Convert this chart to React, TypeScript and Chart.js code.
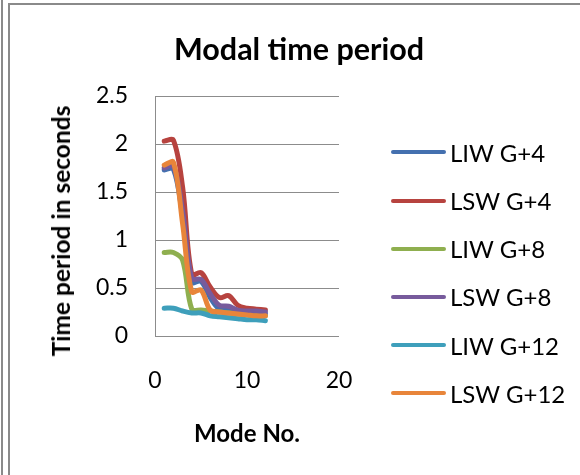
import React, { useEffect, useRef } from "react";
import { Chart, registerables } from "chart.js";

Chart.register(...registerables);

const modes = [1, 2, 3, 4, 5, 6, 7, 8, 9, 10, 11, 12];
const liwG4 = [1.73, 1.74, 1.25, 0.56, 0.57, 0.4, 0.28, 0.27, 0.26, 0.25, 0.24, 0.23];
const lswG4 = [2.03, 2.04, 1.55, 0.64, 0.66, 0.51, 0.4, 0.42, 0.32, 0.29, 0.28, 0.27];
const liwG8 = [0.87, 0.87, 0.79, 0.28, 0.27, 0.26, 0.25, 0.24, 0.23, 0.22, 0.21, 0.21];
const lswG8 = [1.75, 1.77, 1.3, 0.6, 0.59, 0.44, 0.32, 0.31, 0.27, 0.26, 0.26, 0.25];
const liwG12 = [0.29, 0.29, 0.26, 0.24, 0.24, 0.21, 0.2, 0.19, 0.18, 0.17, 0.17, 0.16];
const lswG12 = [1.78, 1.81, 1.17, 0.46, 0.48, 0.27, 0.25, 0.24, 0.23, 0.22, 0.21, 0.21];

const seriesNames = ["LIW G+4", "LSW G+4", "LIW G+8", "LSW G+8", "LIW G+12", "LSW G+12"];
const seriesValues = [liwG4, lswG4, liwG8, lswG8, liwG12, lswG12];
const seriesColors = ["#4470AF", "#B7433F", "#8FAF4F", "#775B9C", "#3E9FBB", "#E8853A"];

const yTicks = [0, 0.5, 1, 1.5, 2, 2.5];
const xTicks = [0, 10, 20];

const FONT = "Lato, 'Open Sans', sans-serif";

export default function App() {
  const ref = useRef<HTMLCanvasElement>(null);

  useEffect(() => {
    if (!ref.current) return;
    const chart = new Chart(ref.current, {
      type: "line",
      data: {
        datasets: seriesNames.map((name, i) => ({
          label: name,
          data: modes.map((m, j) => ({ x: m, y: seriesValues[i][j] })),
          borderColor: seriesColors[i],
          backgroundColor: seriesColors[i],
          borderWidth: 5,
          pointRadius: 0,
          tension: 0.35,
          fill: false,
          order: seriesNames.length - 1 - i,
          borderCapStyle: "round" as const,
          borderJoinStyle: "round" as const,
        })),
      },
      options: {
        responsive: false,
        animation: false,
        devicePixelRatio: 1,
        layout: { padding: { left: 48, top: 96, right: 241, bottom: 26 } },
        plugins: {
          legend: { display: false },
          title: { display: false },
          tooltip: { enabled: false },
        },
        scales: {
          x: {
            type: "linear",
            min: 0,
            max: 20,
            afterBuildTicks: (s: any) => {
              s.ticks = xTicks.map((v) => ({ value: v }));
            },
            afterFit: (s: any) => {
              s.height = 113;
            },
            grid: { display: false, drawTicks: false },
            border: { display: false },
            ticks: {
              color: "#000",
              font: { family: FONT, size: 23 },
              padding: 31,
              maxRotation: 0,
              callback: (v: any) => String(v),
            },
            title: {
              display: true,
              text: "Mode No.",
              color: "#000",
              font: { family: FONT, size: 24, weight: "bold" },
              padding: { top: 0, bottom: 0 },
            },
          },
          y: {
            type: "linear",
            min: 0,
            max: 2.5,
            afterBuildTicks: (s: any) => {
              s.ticks = yTicks.map((v) => ({ value: v }));
            },
            afterFit: (s: any) => {
              s.width = 107;
            },
            grid: { color: "#8c8c8c", lineWidth: 1, drawTicks: false },
            border: { display: true, color: "#8c8c8c", width: 1 },
            ticks: {
              color: "#000",
              font: { family: FONT, size: 23 },
              padding: 27,
              callback: (v: any) => String(v),
            },
            title: { display: false },
          },
        },
      },
    });
    return () => chart.destroy();
  }, []);

  return (
    <div
      style={{
        position: "absolute",
        left: 0,
        top: 0,
        width: 580,
        height: 475,
        overflow: "hidden",
        background: "#fff",
        fontFamily: FONT,
      }}
    >
      <div style={{ position: "absolute", left: 1, top: 0, width: 2, height: 475, background: "#8a8a8a" }} />
      <div
        style={{
          position: "absolute",
          left: 8,
          top: 3,
          width: 600,
          height: 600,
          borderLeft: "2px solid #8a8a8a",
          borderTop: "2px solid #8a8a8a",
        }}
      />
      <canvas ref={ref} width={580} height={475} style={{ position: "absolute", left: 0, top: 0 }} />
      <div
        style={{
          position: "absolute",
          left: 0,
          width: 598,
          top: 30,
          textAlign: "center",
          fontWeight: "bold",
          fontSize: 30.5,
          lineHeight: "36px",
          color: "#000",
          whiteSpace: "nowrap",
        }}
      >
        Modal time period
      </div>
      <div
        style={{
          position: "absolute",
          left: 61,
          top: 231,
          transform: "translate(-50%, -50%) rotate(-90deg)",
          fontWeight: "bold",
          fontSize: 24.5,
          lineHeight: "30px",
          color: "#000",
          whiteSpace: "nowrap",
        }}
      >
        Time period in seconds
      </div>
      {seriesNames.map((name, i) => (
        <div
          key={name}
          style={{
            position: "absolute",
            left: 391,
            top: 152.3 + 48.2 * i - 15,
            height: 30,
            display: "flex",
            alignItems: "center",
            fontSize: 24,
            color: "#000",
            whiteSpace: "nowrap",
          }}
        >
          <span
            style={{
              display: "inline-block",
              width: 55,
              height: 4,
              borderRadius: 2,
              background: seriesColors[i],
              marginRight: 4,
            }}
          />
          {name}
        </div>
      ))}
    </div>
  );
}
